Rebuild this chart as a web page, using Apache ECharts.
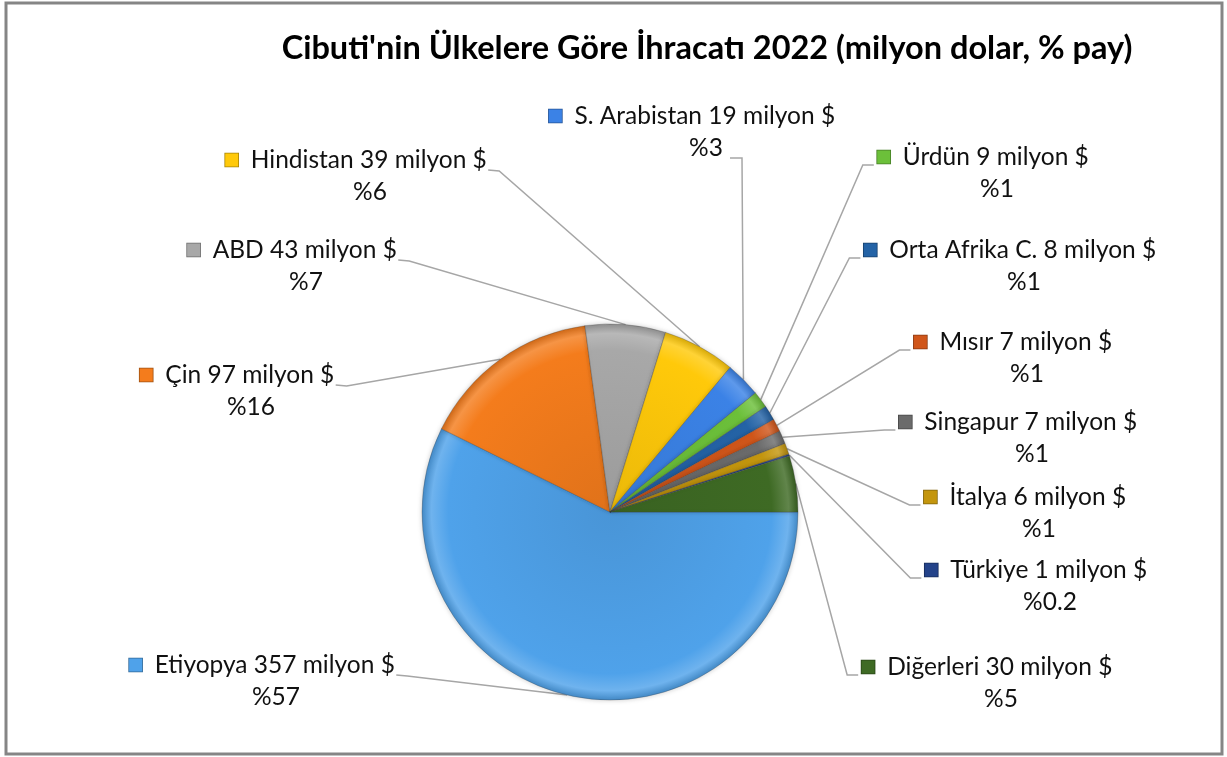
<!DOCTYPE html>
<html><head><meta charset="utf-8">
<script src="https://cdn.jsdelivr.net/npm/echarts@6/dist/echarts.min.js"></script>
<style>html,body{margin:0;padding:0;background:#fff}#c{width:1227px;height:757px}</style>
</head><body><div id="c"></div>
<script>
const countries = ['Etiyopya','Çin','ABD','Hindistan','S. Arabistan','Ürdün','Orta Afrika C.','Mısır','Singapur','İtalya','Türkiye','Diğerleri'];
const valuesMillionUSD = [357,97,43,39,19,9,8,7,7,6,1,30];
const shareLabels = ['57','16','7','6','3','1','1','1','1','1','0.2','5'];
const titleText = "Cibuti'nin Ülkelere Göre İhracatı 2022 (milyon dolar, % pay)";

const sliceColors = ['#4FA2EA','#F47C1C','#A8A8A8','#FFC90A','#3B82E6','#6CC03A','#2463A6','#D0561A','#6B6B6B','#C4960E','#24438A','#3E6A24'];
// label placement: [block centre x, first line centre y, leader side]
const labelPlacement = [
  [262,665,'L'],[237,375,'L'],[292,250,'L'],[356,160,'L'],[692,116,'B'],
  [983,157,'R'],[1010,250,'R'],[1013,342,'R'],[1018,422,'R'],[1025,497,'R'],[1036,570,'R'],[987,667,'R']
];
const FONT = 'Lato';
const LH = 32;

function shade(hex, f){
  const n = parseInt(hex.slice(1),16);
  let r=(n>>16)&255,g=(n>>8)&255,b=n&255;
  if (f>0){ r+= (255-r)*f; g+=(255-g)*f; b+=(255-b)*f; }
  else { r*=1+f; g*=1+f; b*=1+f; }
  return 'rgb('+Math.round(r)+','+Math.round(g)+','+Math.round(b)+')';
}

const rich = {
  t:{fontFamily:FONT,fontSize:24.5,color:'#111',lineHeight:LH},
  p:{fontFamily:FONT,fontSize:24.5,color:'#111',lineHeight:LH},
  sp:{width:28,height:10}
};
sliceColors.forEach((c,i)=>{ rich['sq'+i] = {width:13,height:13,backgroundColor:c,borderColor:shade(c,-0.35),borderWidth:0.8}; });

const data = countries.map((n,i)=>({
  name:n, value:valuesMillionUSD[i],
  itemStyle:{color:{type:'radial',x:610,y:512,r:188,global:true,colorStops:[
    {offset:0,color:shade(sliceColors[i],-0.08)},
    {offset:0.86,color:sliceColors[i]},
    {offset:0.95,color:shade(sliceColors[i],0.18)},
    {offset:1,color:shade(sliceColors[i],-0.15)}]}},
  label:{formatter:'{sq'+i+'|}{t|  '+n+' '+valuesMillionUSD[i]+' milyon $}\n{sp|}{p|%'+shareLabels[i]+'}'}
}));

const chart = echarts.init(document.getElementById('c'));
chart.setOption({
  animation:false,
  backgroundColor:'#fff',
  title:{text:titleText,left:702,top:27,textAlign:'center',
    textStyle:{fontFamily:FONT,fontWeight:'bold',fontSize:32.5,color:'#000'}},
  graphic:[{type:'rect',shape:{x:6,y:3,width:1216,height:751},style:{fill:'none',stroke:'#858585',lineWidth:3},silent:true}],
  series:[{
    type:'pie',
    center:[610,512],
    radius:188,
    startAngle:0,
    clockwise:true,
    avoidLabelOverlap:false,
    data:data,
    itemStyle:{borderColor:'rgba(60,60,60,0.35)',borderWidth:0.8,shadowBlur:5,shadowColor:'rgba(0,0,0,0.2)'},
    label:{show:true,position:'outside',rich:rich,align:'center'},
    labelLine:{show:true,length:10,length2:10,lineStyle:{color:'#A6A6A6',width:1.5}},
    labelLayout:function(params){
      const pl = labelPlacement[params.dataIndex];
      const cx = pl[0], yc = pl[1], side = pl[2];
      const w = params.labelRect.width;
      const pts = params.labelLinePoints;
      const anchor = pts ? [pts[0][0],pts[0][1]] : null;
      let end, elbow;
      if (side==='L'){ end=[cx+w/2+1,yc+10]; elbow=[cx+w/2+12,yc+11]; }
      else if (side==='R'){ end=[cx-w/2-3,yc+8]; elbow=[cx-w/2-14,yc+8]; }
      else { end=[cx+38,yc+42]; elbow=[cx+50,yc+42]; }
      const out = {x:cx,y:yc-LH/2,align:'center',verticalAlign:'top'};
      if (anchor) out.labelLinePoints=[anchor,elbow,end];
      return out;
    }
  }]
});
</script></body></html>
